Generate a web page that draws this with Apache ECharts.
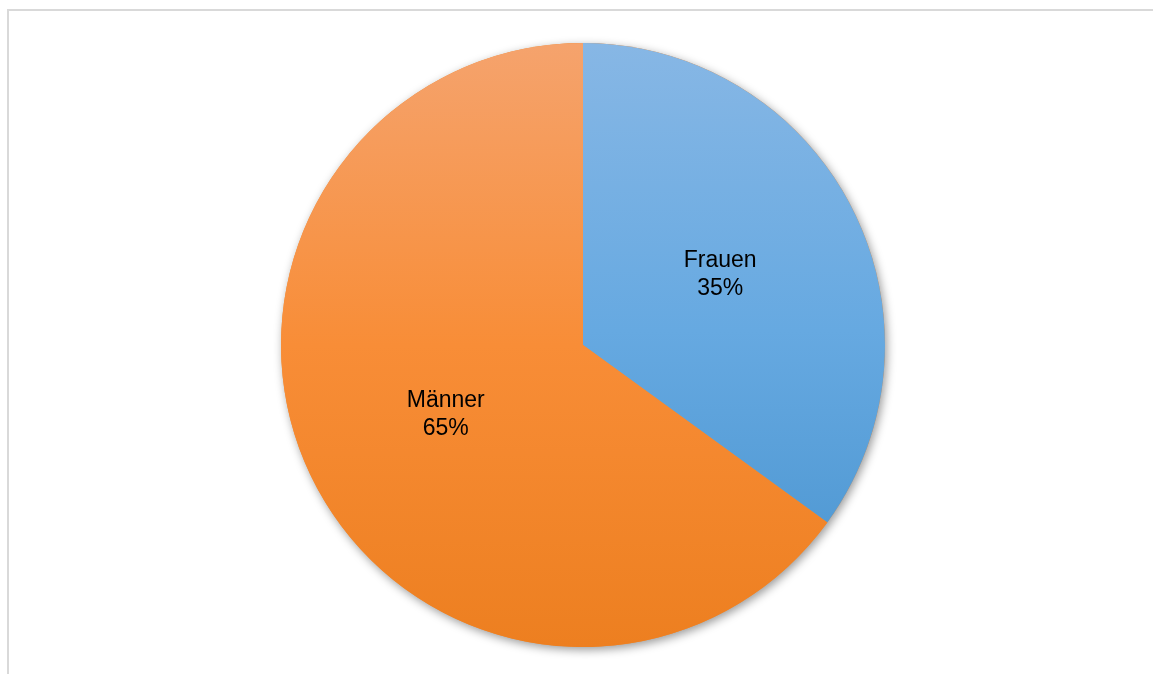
<!DOCTYPE html>
<html>
<head>
<meta charset="utf-8">
<script src="https://cdn.jsdelivr.net/npm/echarts@6/dist/echarts.min.js"></script>
<style>
  html, body { margin: 0; padding: 0; background: #ffffff; }
  #frame { position: absolute; left: 7px; top: 9px; width: 1160px; height: 680px;
           border-left: 2px solid #d9d9d9; border-top: 2px solid #d9d9d9; box-sizing: border-box; }
  #chart { position: absolute; left: 0; top: 0; width: 1153px; height: 674px; }
</style>
</head>
<body>
<div id="frame"></div>
<div id="chart"></div>
<script>
// Gender split
const categories = ['Frauen', 'Männer'];
const shares = [35, 65];
// gradient stops per slice: top, middle, bottom
const gradientStops = [
  [[0, '#87b7e5'], [0.6, '#66a9e1'], [1, '#539bd5']],
  [[0, '#f5a36d'], [0.5, '#f88d37'], [1, '#ed7f20']]
];

const chart = echarts.init(document.getElementById('chart'));

const data = categories.map((name, i) => ({
  name: name,
  value: shares[i],
  itemStyle: {
    color: new echarts.graphic.LinearGradient(0, 0, 0, 1,
      gradientStops[i].map(s => ({ offset: s[0], color: s[1] })))
  }
}));

const center = [583, 345];
const radius = 302;

chart.setOption({
  animation: false,
  series: [
    {
      // full disc underneath that casts the drop shadow for the whole pie
      type: 'pie',
      center: center,
      radius: radius,
      silent: true,
      z: 1,
      data: [{ value: 1, name: '' }],
      itemStyle: {
        color: '#f08a30',
        shadowBlur: 10,
        shadowOffsetX: 2,
        shadowOffsetY: 3,
        shadowColor: 'rgba(0,0,0,0.4)'
      },
      label: { show: false },
      labelLine: { show: false },
      emphasis: { disabled: true }
    },
    {
      type: 'pie',
      center: center,
      radius: radius,
      startAngle: 90,
      clockwise: true,
      z: 2,
      data: data,
      itemStyle: { borderWidth: 0 },
      label: {
        show: true,
        position: 'inside',
        formatter: p => p.name + '\n' + p.value + '%',
        color: '#000000',
        fontFamily: 'Liberation Sans, Arial, sans-serif',
        fontSize: 23,
        lineHeight: 28
      },
      labelLine: { show: false },
      emphasis: { disabled: true }
    }
  ]
});
</script>
</body>
</html>
